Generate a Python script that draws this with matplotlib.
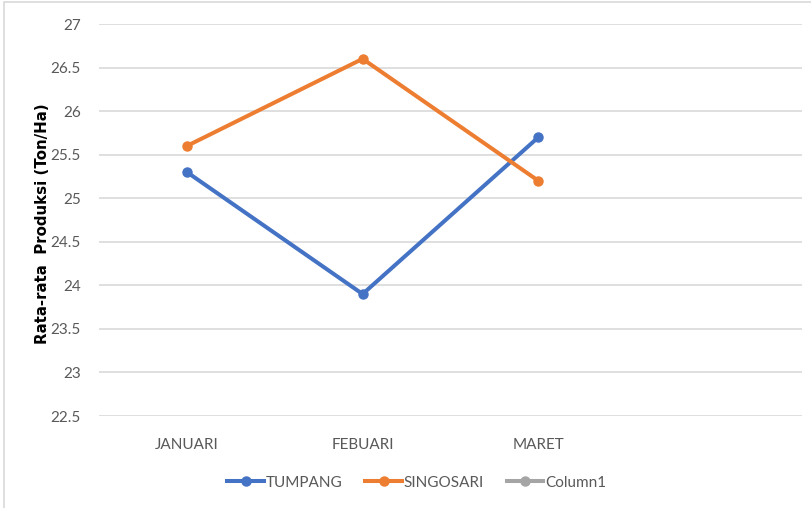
import matplotlib.pyplot as plt
import numpy as np
from matplotlib.patches import Rectangle

months = ["JANUARI", "FEBUARI", "MARET", ""]
tumpang = [25.3, 23.9, 25.7, np.nan]
singosari = [25.6, 26.6, 25.2, np.nan]
column1 = [np.nan, np.nan, np.nan, np.nan]
yticks = [22.5, 23, 23.5, 24, 24.5, 25, 25.5, 26, 26.5, 27]

plt.rcParams['font.family'] = ['Lato', 'DejaVu Sans']

fig = plt.figure(figsize=(8.11, 5.08), dpi=100)
ax = fig.add_axes([99 / 811, 1 - 416 / 508, (802 - 99) / 811, (416 - 24) / 508])

# chart area border
fig.patches.append(Rectangle((4 / 811, -0.1), 1.2, 1 - 2 / 508 + 0.1, transform=fig.transFigure,
                             fill=False, edgecolor="#d9d9d9", linewidth=1.2))

x = np.arange(len(months))
ax.plot(x, tumpang, color="#4472C4", lw=2.9, marker='o', ms=6.5, label="TUMPANG")
ax.plot(x, singosari, color="#ED7D31", lw=2.9, marker='o', ms=6.5, label="SINGOSARI")
ax.plot(x, column1, color="#A5A5A5", lw=2.9, marker='o', ms=6.5, label="Column1")

ax.set_xlim(-0.5, len(months) - 0.5)
ax.set_ylim(22.5, 27)
ax.set_yticks(yticks)
ax.set_yticklabels([f"{v:g}" for v in yticks])
ax.set_xticks(x)
ax.set_xticklabels(months)
ax.grid(axis='y', color="#d9d9d9", lw=1.2)
ax.set_axisbelow(True)
for s in ax.spines.values():
    s.set_visible(False)
ax.tick_params(axis='both', length=0, colors="#595959", labelsize=11)
ax.tick_params(axis='y', pad=13)
ax.tick_params(axis='x', pad=16)

ax.set_ylabel("Rata-rata  Produksi (Ton/Ha)", fontsize=10.8, fontweight='bold',
              family='DejaVu Sans', color="black")
ax.yaxis.set_label_coords(-0.069, 0.49)

leg = ax.legend(loc='center', bbox_to_anchor=(0.452, -0.17), ncol=3, frameon=False,
                fontsize=11, handlelength=2.4, handletextpad=0.1, columnspacing=1.5)
for t in leg.get_texts():
    t.set_color("#595959")

fig.savefig("out.png", dpi=100)
